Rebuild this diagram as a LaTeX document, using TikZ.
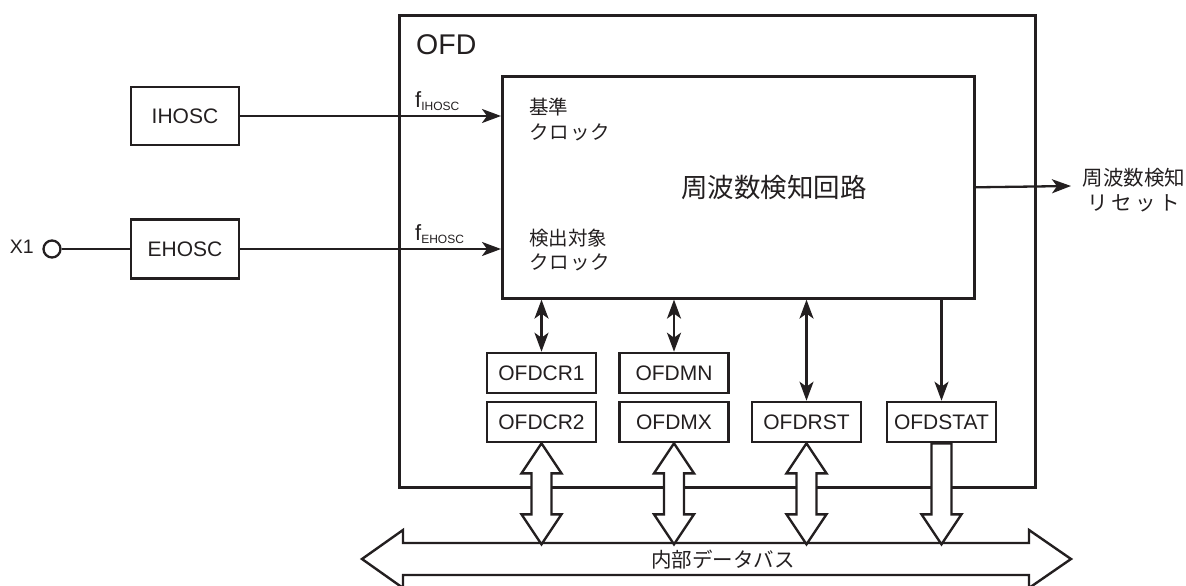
\documentclass[tikz,border=0pt]{standalone}
\usepackage{fontspec}
\setmainfont{Liberation Sans}
\newfontfamily\jp{Noto Sans CJK JP}
\usetikzlibrary{arrows.meta,calc}
\definecolor{ln}{RGB}{35,31,32}
\newcommand{\fsz}[1]{\fontsize{#1}{#1}\selectfont}
\begin{document}
\begin{tikzpicture}[x=1pt,y=-1pt,
  every node/.style={text=ln},
  blk/.style={draw=ln, line width=2.6pt, inner sep=0pt, font=\fsz{21}},
  reg/.style={blk, minimum width=109pt, minimum height=40pt},
  conn/.style={draw=ln, line width=2.3pt},
  tip/.style={-{Stealth[length=19pt,width=14pt,inset=5pt]}},
  bi/.style={{Stealth[length=19pt,width=14pt,inset=5pt]}-{Stealth[length=19pt,width=14pt,inset=5pt]}},
  hollow/.style={draw=ln, fill=white, line width=2.4pt, line join=miter},
  jlab/.style={font=\jp\fsz{19.5}, inner sep=0pt}
]
\useasboundingbox (0,0) rectangle (1186,586);
\begin{scope}
\clip (0,0) rectangle (1186,586);

% OFD outer box
\node[blk, anchor=north west, minimum width=636pt, minimum height=472pt] (ofd) at (398,14) {};
\node[anchor=west, font=\fsz{28.5}, inner sep=0pt] (ofdl) at (416,45) {OFD};

% detector block
\node[blk, anchor=north west, minimum width=472pt, minimum height=222pt] (det) at (501,75) {};
\node[font=\jp\fsz{26.5}, inner sep=0pt] (detl) at (774,187) {周波数検知回路};
\node[jlab, anchor=west] (ref1) at (529,107) {基準};
\node[jlab, anchor=west] (ref2) at (529,132) {ク\kern1ptロ\kern1ptッ\kern1ptク};
\node[jlab, anchor=west] (tgt1) at (529,238) {検出対象};
\node[jlab, anchor=west] (tgt2) at (529,262) {ク\kern1ptロ\kern1ptッ\kern1ptク};

% oscillators
\node[blk, minimum width=108pt, minimum height=58pt] (ihosc) at (185,116) {IHOSC};
\node[blk, minimum width=108pt, minimum height=59pt] (ehosc) at (185,249) {EHOSC};
\node[draw=ln, circle, line width=2.3pt, minimum size=17pt, inner sep=0pt] (x1) at (52,249) {};
\node[anchor=east, font=\fsz{19.5}, inner sep=0pt] (x1l) at (34,247) {X1};

\draw[conn] (x1.east) -- (ehosc.west);
\draw[conn, tip] (ihosc.east) -- (ihosc.east -| det.west);
\draw[conn, tip] (ehosc.east) -- (ehosc.east -| det.west);
\node[anchor=base west, inner sep=0pt] (fih) at (415,107) {\fsz{22}f\raisebox{-3pt}{\fsz{12}IHOSC}};
\node[anchor=base west, inner sep=0pt] (feh) at (415,240) {\fsz{22}f\raisebox{-3pt}{\fsz{12}EHOSC}};

% output
\coordinate (outend) at (1071,186);
\draw[conn, tip] (det.east) -- (outend);
\node[font=\jp\fsz{20.5}, inner sep=0pt] (out1) at (1134,178) {周波数検知};
\node[font=\jp\fsz{20.5}, inner sep=0pt] (out2) at (1134,203) {リ\,セ\,ッ\,ト};

% registers
\node[reg] (cr1) at (541.5,373) {OFDCR1};
\node[reg] (cr2) at (541.5,422) {OFDCR2};
\node[reg] (mn) at (674,373) {OFDMN};
\node[reg] (mx) at (674,422) {OFDMX};
\node[reg] (rst) at (806.5,422) {OFDRST};
\node[reg] (stat) at (941.5,422) {OFDSTAT};

\draw[conn, bi] (cr1.north |- det.south) -- (cr1.north);
\draw[conn, bi] (mn.north |- det.south) -- (mn.north);
\draw[conn, bi] (rst.north |- det.south) -- (rst.north);
\draw[conn, tip] (stat.north |- det.south) -- (stat.north);

% internal data bus
\draw[hollow] (362,559) -- (403,530) -- (403,543) -- (1029,543) -- (1029,530) -- (1071,559)
  -- (1029,588) -- (1029,575) -- (403,575) -- (403,588) -- cycle;
\node[font=\jp\fsz{20.5}, inner sep=0pt] (busl) at (723,560) {内部データバス};

% hollow arrows
\foreach \r in {cr2,mx,rst}{
  \draw[hollow] (\r.south) -- ++(20,30) -- ++(-10,0) -- ++(0,41) -- ++(10,0) -- ++(-20,30)
    -- ++(-20,-30) -- ++(10,0) -- ++(0,-41) -- ++(-10,0) -- cycle;
}
\draw[hollow] ($(stat.south)+(-10,0)$) -- ++(0,71) -- ++(-10,0) -- ++(20,30) -- ++(20,-30)
  -- ++(-10,0) -- ++(0,-71) -- cycle;
\end{scope}
\end{tikzpicture}
\end{document}
